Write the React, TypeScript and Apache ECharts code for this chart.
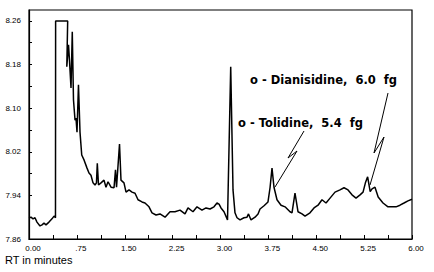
import React, { useEffect, useRef } from "react";
import * as echarts from "echarts";

// Retention time (minutes) and detector signal
const rtMinutes = [
  0, 0.031, 0.063, 0.094, 0.125, 0.172, 0.204, 0.235, 0.266, 0.313, 0.36, 0.392, 0.415,
  0.417, 0.606, 0.592, 0.619, 0.634, 0.658, 0.678, 0.697, 0.721, 0.736, 0.752, 0.775,
  0.799, 0.826, 0.862, 0.909, 0.94, 0.971, 1.003, 1.034, 1.057, 1.07, 1.089, 1.128,
  1.175, 1.206, 1.238, 1.285, 1.332, 1.355, 1.371, 1.418, 1.441, 1.488, 1.52, 1.567,
  1.614, 1.661, 1.708, 1.77, 1.817, 1.88, 1.927, 1.99, 2.052, 2.131, 2.209, 2.287,
  2.366, 2.444, 2.491, 2.569, 2.632, 2.71, 2.773, 2.836, 2.898, 2.945, 2.977, 3.008,
  3.055, 3.11, 3.16, 3.196, 3.227, 3.259, 3.306, 3.368, 3.415, 3.439, 3.478, 3.541,
  3.588, 3.619, 3.682, 3.744, 3.776, 3.807, 3.838, 3.885, 3.948, 4.011, 4.089, 4.12,
  4.167, 4.214, 4.277, 4.324, 4.402, 4.465, 4.528, 4.59, 4.653, 4.716, 4.794, 4.872,
  4.935, 4.998, 5.06, 5.123, 5.186, 5.233, 5.27, 5.305, 5.345, 5.374, 5.42, 5.47,
  5.546, 5.624, 5.687, 5.75, 5.812, 5.875, 5.937, 6.0,
];
const signal = [
  7.899, 7.9, 7.897, 7.899, 7.891, 7.884, 7.886, 7.889, 7.886, 7.891, 7.897, 7.902, 7.899,
  8.26, 8.26, 8.176, 8.216, 8.188, 8.137, 8.24, 8.115, 8.078, 8.082, 8.056, 8.143,
  8.056, 8.014, 8.005, 7.99, 7.981, 7.977, 7.963, 7.959, 7.963, 7.999, 7.959, 7.963,
  7.968, 7.955, 7.965, 7.955, 7.954, 7.987, 7.955, 8.034, 7.968, 7.963, 7.946, 7.95,
  7.946, 7.944, 7.932, 7.928, 7.926, 7.919, 7.908, 7.904, 7.906, 7.9, 7.91, 7.91,
  7.913, 7.906, 7.917, 7.91, 7.919, 7.913, 7.917, 7.915, 7.919, 7.926, 7.924, 7.917,
  7.91, 7.895, 8.176, 7.95, 7.908, 7.899, 7.895, 7.899, 7.9, 7.906, 7.895, 7.9,
  7.906, 7.915, 7.921, 7.928, 7.954, 7.99, 7.955, 7.932, 7.922, 7.919, 7.91, 7.908,
  7.944, 7.91, 7.906, 7.902, 7.908, 7.917, 7.922, 7.932, 7.926, 7.935, 7.946, 7.95,
  7.954, 7.95, 7.941, 7.935, 7.941, 7.946, 7.963, 7.974, 7.947, 7.952, 7.955, 7.937,
  7.926, 7.919, 7.919, 7.919, 7.922, 7.926, 7.93, 7.933,
];

const xTickValues = [0, 0.375, 0.75, 1.125, 1.5, 1.875, 2.25, 2.625, 3, 3.375, 3.75, 4.125, 4.5, 4.875, 5.25, 5.625, 6];
const xLabelValues = [0, 0.75, 1.5, 2.25, 3, 3.75, 4.5, 5.25, 6];
const xLabelTexts = ["0.00", ".75", "1.50", "2.25", "3.00", "3.75", "4.50", "5.25", "6.00"];
const yTickValues = [7.86, 7.9, 7.94, 7.98, 8.02, 8.06, 8.1, 8.14, 8.18, 8.22, 8.26];
const yLabelValues = [7.86, 7.94, 8.02, 8.1, 8.18, 8.26];

const xAxisTitle = "RT in minutes";
const annotationDianisidine = "o - Dianisidine,  6.0  fg";
const annotationTolidine = "o - Tolidine,  5.4  fg";

export default function App() {
  const ref = useRef<HTMLDivElement>(null);
  useEffect(() => {
    document.body.style.margin = "0";
    if (!ref.current) return;
    const chart = echarts.init(ref.current, undefined, { renderer: "svg" });
    const data = rtMinutes.map((t, i) => [t, signal[i]]);
    const labelFont = "'Liberation Sans', Arial, sans-serif";
    chart.setOption({
      animation: false,
      backgroundColor: "#fff",
      grid: {
        left: 29,
        top: 10,
        right: 22,
        bottom: 33,
        show: true,
        borderColor: "#000",
        borderWidth: 1.2,
        backgroundColor: "transparent",
      },
      xAxis: {
        type: "value",
        min: 0,
        max: 6,
        axisLine: { show: true, lineStyle: { color: "#000", width: 1.2 } },
        axisTick: {
          show: true,
          inside: true,
          length: 4,
          customValues: xTickValues,
          lineStyle: { color: "#000", width: 1 },
        },
        splitLine: { show: false },
        axisLabel: {
          customValues: xLabelValues,
          color: "#000",
          fontSize: 8,
          lineHeight: 9,
          fontFamily: labelFont,
          margin: 5,
          padding: [0, 0, 0, 8],
          formatter: (v: number) => {
            const idx = xLabelValues.findIndex((x) => Math.abs(x - v) < 1e-6);
            return idx >= 0 ? xLabelTexts[idx] : "";
          },
        },
      },
      yAxis: {
        type: "value",
        min: 7.86,
        max: 8.28,
        axisLine: { show: true, lineStyle: { color: "#000", width: 1.2 } },
        axisTick: {
          show: true,
          inside: true,
          length: 3,
          customValues: yTickValues,
          lineStyle: { color: "#000", width: 1 },
        },
        splitLine: { show: false },
        axisLabel: {
          customValues: yLabelValues,
          color: "#000",
          fontSize: 8,
          fontFamily: labelFont,
          margin: 8,
          formatter: (v: number) => v.toFixed(2),
        },
      },
      series: [
        {
          type: "line",
          data,
          showSymbol: false,
          symbol: "none",
          lineStyle: { color: "#000", width: 1.5 },
          silent: true,
        },
      ],
      graphic: [
        {
          type: "text",
          left: 5,
          top: 254,
          style: { text: xAxisTitle, fill: "#000", font: "11px 'Liberation Sans', Arial, sans-serif" },
        },
        {
          type: "text",
          x: 250,
          y: 80,
          style: {
            text: annotationDianisidine,
            fill: "#000",
            font: "bold 11.5px 'DejaVu Sans', sans-serif",
            verticalAlign: "middle",
          },
        },
        {
          type: "text",
          x: 238,
          y: 123,
          style: {
            text: annotationTolidine,
            fill: "#000",
            font: "bold 11.5px 'DejaVu Sans', sans-serif",
            verticalAlign: "middle",
          },
        },
        {
          type: "polyline",
          shape: { points: [[304, 131], [288, 158], [297, 151], [275, 187]] },
          style: { stroke: "#000", lineWidth: 1, fill: null },
        },
        {
          type: "polyline",
          shape: { points: [[388, 93], [374, 153], [384, 137], [370, 185]] },
          style: { stroke: "#000", lineWidth: 1, fill: null },
        },
      ],
    });
    return () => chart.dispose();
  }, []);
  return <div ref={ref} style={{ width: 434, height: 272 }} />;
}
